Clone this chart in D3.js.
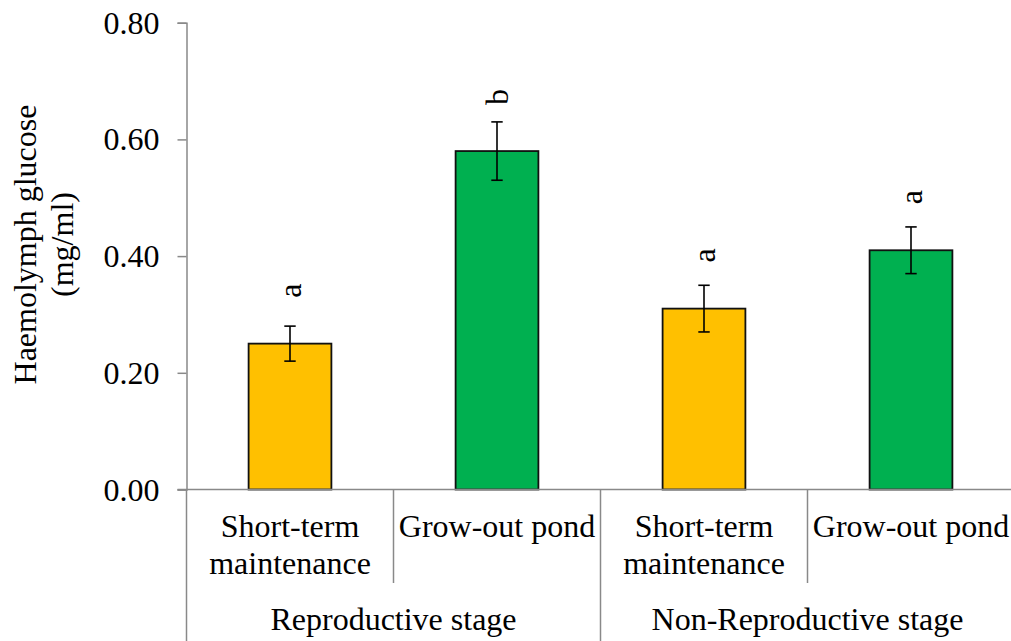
<!DOCTYPE html>
<html>
<head>
<meta charset="utf-8">
<script src="https://cdn.jsdelivr.net/npm/d3@7"></script>
<style>
  html, body { margin: 0; padding: 0; background: #fff; }
  svg { display: block; }
</style>
</head>
<body>
<svg id="chart" width="1011" height="641"></svg>
<script>
// Haemolymph glucose by developmental stage and holding site
const stages = ["Reproductive stage", "Non-Reproductive stage"];
const sites = ["Short-term maintenance", "Grow-out pond"];
const siteLines = [["Short-term", "maintenance"], ["Grow-out pond"]];
const meanValues = [0.25, 0.58, 0.31, 0.41];
const errorValues = [0.03, 0.05, 0.04, 0.04];
const letterLabels = ["a", "b", "a", "a"];
const yTickValues = [0, 0.2, 0.4, 0.6, 0.8];
const siteColors = ["#FFC000", "#00B050"];

(function draw() {
  const svg = d3.select("#chart");
  const plotLeft = 186.5, plotRight = 1014.5, plotTop = 22.7, plotBottom = 489.5;
  const axisColor = "#898989";
  const fontSize = 32;
  const serif = "'Liberation Serif', 'Times New Roman', serif";

  const rows = [];
  stages.forEach((st, gi) => sites.forEach((s, si) => {
    const i = gi * sites.length + si;
    rows.push({ key: st + "|" + s, stage: st, site: s, si, mean: meanValues[i], err: errorValues[i], letter: letterLabels[i] });
  }));

  const x = d3.scaleBand().domain(rows.map(d => d.key)).range([plotLeft, plotRight]).paddingInner(0).paddingOuter(0);
  const y = d3.scaleLinear().domain([0, 0.8]).range([plotBottom, plotTop]);
  const barW = x.bandwidth() * 0.4;

  // Y axis
  const yAxis = svg.append("g").attr("transform", `translate(${plotLeft},0)`)
    .call(d3.axisLeft(y).tickValues(yTickValues).tickFormat(d3.format(".2f")).tickSize(9).tickPadding(18));
  yAxis.attr("font-family", serif).attr("font-size", fontSize);
  yAxis.select(".domain").attr("stroke", axisColor).attr("stroke-width", 1.5);
  yAxis.selectAll(".tick line").attr("stroke", axisColor).attr("stroke-width", 1.5);
  yAxis.selectAll(".tick text").attr("fill", "#000").attr("dy", "0.33em");

  // Y title
  const title = svg.append("text").attr("transform", "translate(36,244.5) rotate(-90)")
    .attr("text-anchor", "middle").attr("font-size", fontSize).attr("font-family", serif).attr("fill", "#000");
  title.append("tspan").attr("x", 0).attr("dy", 0).text("Haemolymph glucose");
  title.append("tspan").attr("x", 0).attr("dy", 36.5).text("(mg/ml)");

  // Bars
  svg.append("g").selectAll("rect").data(rows).join("rect")
    .attr("x", d => x(d.key) + (x.bandwidth() - barW) / 2)
    .attr("y", d => y(d.mean))
    .attr("width", barW)
    .attr("height", d => y(0) - y(d.mean))
    .attr("fill", d => siteColors[d.si])
    .attr("stroke", "#111").attr("stroke-width", 1.8);

  // Error bars
  const eb = svg.append("g").attr("stroke", "#000").attr("stroke-width", 1.6);
  rows.forEach(d => {
    const cx = x(d.key) + x.bandwidth() / 2;
    eb.append("line").attr("x1", cx).attr("x2", cx).attr("y1", y(d.mean + d.err)).attr("y2", y(d.mean - d.err));
    eb.append("line").attr("x1", cx - 5.7).attr("x2", cx + 5.7).attr("y1", y(d.mean + d.err)).attr("y2", y(d.mean + d.err));
    eb.append("line").attr("x1", cx - 5.7).attr("x2", cx + 5.7).attr("y1", y(d.mean - d.err)).attr("y2", y(d.mean - d.err));
  });

  // Significance letters
  svg.append("g").attr("font-family", serif).selectAll("text").data(rows).join("text")
    .attr("transform", d => `translate(${x(d.key) + x.bandwidth() / 2 + 11},${y(d.mean) - 46}) rotate(-90)`)
    .attr("text-anchor", "start").attr("font-size", fontSize).attr("fill", "#000")
    .text(d => d.letter);

  // X axis line and hierarchical category dividers
  const xg = svg.append("g").attr("stroke", axisColor).attr("stroke-width", 1.5);
  xg.append("line").attr("x1", plotLeft - 9).attr("x2", plotRight).attr("y1", plotBottom).attr("y2", plotBottom);
  xg.append("line").attr("x1", plotLeft).attr("x2", plotLeft).attr("y1", plotBottom).attr("y2", 641);
  rows.forEach(d => {
    const xr = x(d.key) + x.bandwidth();
    const isGroupEnd = d.si === sites.length - 1;
    xg.append("line").attr("x1", xr).attr("x2", xr).attr("y1", plotBottom).attr("y2", isGroupEnd ? 641 : 583);
  });

  // Site labels
  const sl = svg.append("g").attr("font-size", fontSize).attr("font-family", serif)
    .attr("fill", "#000").attr("text-anchor", "middle");
  rows.forEach(d => {
    const cx = x(d.key) + x.bandwidth() / 2;
    siteLines[d.si].forEach((ln, k) => {
      sl.append("text").attr("x", cx).attr("y", 537 + k * 36.5).text(ln);
    });
  });

  // Stage labels
  stages.forEach(st => {
    const keys = rows.filter(d => d.stage === st).map(d => d.key);
    const x0 = x(keys[0]), x1 = x(keys[keys.length - 1]) + x.bandwidth();
    sl.append("text").attr("x", (x0 + x1) / 2).attr("y", 630).text(st);
  });
})();
</script>
</body>
</html>
